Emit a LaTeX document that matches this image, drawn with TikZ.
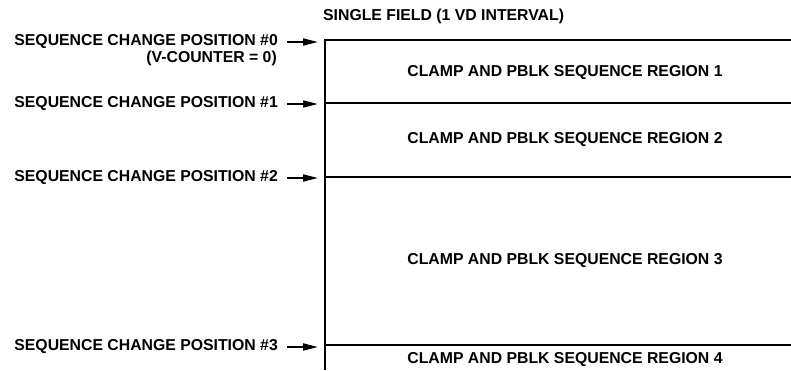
\documentclass[tikz,border=0pt]{standalone}
\usepackage{fontspec}
\setmainfont{Liberation Sans}
\usetikzlibrary{arrows.meta}
\begin{document}
\begin{tikzpicture}[x=1pt,y=-1pt,
  lbl/.style={font=\bfseries\fontsize{15.8}{17}\selectfont, inner sep=0pt},
  poslbl/.style={lbl, anchor=east},
  reglbl/.style={lbl, anchor=center},
  bar/.style={line width=2pt},
  ptr/.style={line width=1.8pt, -{Triangle[length=15pt,width=7pt]}}]
\useasboundingbox (0,0) rectangle (791,370);
% frame
\coordinate (top) at (325,40);
\coordinate (bot) at (325,370);
\draw[bar] (bot) -- (top) -- (791,40);
\coordinate (l1) at (325,103); \coordinate (r1) at (791,103);
\coordinate (l2) at (325,177); \coordinate (r2) at (791,177);
\coordinate (l3) at (325,345); \coordinate (r3) at (791,345);
\draw[bar] (l1) -- (r1);
\draw[bar] (l2) -- (r2);
\draw[bar] (l3) -- (r3);
% title
\node[lbl, anchor=west] (title) at (323,16) {SINGLE FIELD (1 VD INTERVAL)};
% region labels
\node[reglbl] (reg1) at (565,73) {CLAMP AND PBLK SEQUENCE REGION 1};
\node[reglbl] (reg2) at (565,140) {CLAMP AND PBLK SEQUENCE REGION 2};
\node[reglbl] (reg3) at (565,261) {CLAMP AND PBLK SEQUENCE REGION 3};
\node[reglbl] (reg4) at (565,360) {CLAMP AND PBLK SEQUENCE REGION 4};
% position labels
\node[poslbl] (p0) at (278,42) {SEQUENCE CHANGE POSITION \#0};
\node[poslbl] (p0b) at (277,58) {(V-COUNTER = 0)};
\node[poslbl] (p1) at (278,104) {SEQUENCE CHANGE POSITION \#1};
\node[poslbl] (p2) at (278,178) {SEQUENCE CHANGE POSITION \#2};
\node[poslbl] (p3) at (278,347) {SEQUENCE CHANGE POSITION \#3};
% arrows
\coordinate (a0) at (318,42);
\coordinate (a1) at (318,104);
\coordinate (a2) at (318,178);
\coordinate (a3) at (318,347);
\draw[ptr] ([xshift=9pt]p0.east) -- (a0);
\draw[ptr] ([xshift=9pt]p1.east) -- (a1);
\draw[ptr] ([xshift=9pt]p2.east) -- (a2);
\draw[ptr] ([xshift=9pt]p3.east) -- (a3);
\end{tikzpicture}
\end{document}
